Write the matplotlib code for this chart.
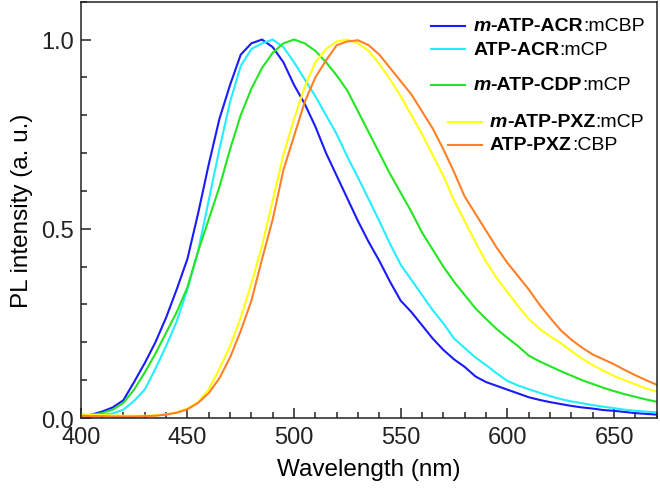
import matplotlib
matplotlib.use('Agg')
import matplotlib.pyplot as plt
from matplotlib.lines import Line2D
from matplotlib.offsetbox import TextArea, HPacker, DrawingArea, AnnotationBbox
from matplotlib.ticker import MultipleLocator

plt.rcParams['font.family'] = ['Liberation Sans', 'DejaVu Sans']

# wavelength grid (nm), 5 nm steps
wavelength = list(range(400, 675, 5))

m_acr_mcbp = [0.005, 0.009, 0.017, 0.028, 0.047, 0.095, 0.145, 0.20, 0.265, 0.34,
              0.42, 0.54, 0.67, 0.79, 0.88, 0.96, 0.99, 1.0, 0.98, 0.94,
              0.88, 0.83, 0.77, 0.70, 0.64, 0.58, 0.52, 0.465, 0.415, 0.36,
              0.31, 0.28, 0.245, 0.21, 0.18, 0.155, 0.135, 0.11, 0.095, 0.085,
              0.075, 0.065, 0.055, 0.048, 0.042, 0.037, 0.032, 0.028, 0.025, 0.021,
              0.019, 0.016, 0.013, 0.011, 0.009]
acr_mcp = [0.003, 0.005, 0.008, 0.012, 0.022, 0.045, 0.075, 0.13, 0.19, 0.255,
           0.34, 0.44, 0.575, 0.71, 0.835, 0.93, 0.975, 0.99, 1.0, 0.98,
           0.94, 0.895, 0.85, 0.80, 0.75, 0.69, 0.635, 0.578, 0.52, 0.46,
           0.405, 0.365, 0.325, 0.285, 0.25, 0.21, 0.185, 0.16, 0.14, 0.118,
           0.098, 0.086, 0.076, 0.067, 0.058, 0.05, 0.044, 0.039, 0.034, 0.03,
           0.026, 0.022, 0.019, 0.017, 0.015]
m_cdp_mcp = [0.005, 0.008, 0.013, 0.022, 0.04, 0.075, 0.12, 0.17, 0.225, 0.28,
             0.345, 0.44, 0.525, 0.61, 0.71, 0.80, 0.87, 0.925, 0.965, 0.99,
             1.0, 0.99, 0.97, 0.94, 0.905, 0.865, 0.81, 0.755, 0.70, 0.645,
             0.595, 0.545, 0.49, 0.445, 0.40, 0.36, 0.325, 0.29, 0.262, 0.235,
             0.212, 0.19, 0.165, 0.15, 0.137, 0.124, 0.112, 0.10, 0.09, 0.08,
             0.071, 0.063, 0.056, 0.049, 0.043]
m_pxz_mcp = [0.01, 0.009, 0.008, 0.007, 0.006, 0.006, 0.006, 0.007, 0.01, 0.015,
             0.025, 0.042, 0.075, 0.13, 0.19, 0.265, 0.355, 0.455, 0.575, 0.695,
             0.79, 0.875, 0.94, 0.975, 0.995, 1.0, 0.99, 0.97, 0.935, 0.895,
             0.85, 0.80, 0.75, 0.695, 0.64, 0.575, 0.52, 0.465, 0.413, 0.37,
             0.333, 0.296, 0.262, 0.236, 0.216, 0.198, 0.177, 0.157, 0.14, 0.125,
             0.111, 0.10, 0.089, 0.078, 0.07]
pxz_cbp = [0.006, 0.005, 0.005, 0.004, 0.004, 0.004, 0.005, 0.006, 0.009, 0.014,
           0.023, 0.04, 0.066, 0.105, 0.16, 0.23, 0.31, 0.42, 0.525, 0.655,
           0.745, 0.835, 0.90, 0.945, 0.985, 0.995, 0.998, 0.985, 0.96, 0.925,
           0.89, 0.855, 0.81, 0.765, 0.71, 0.65, 0.585, 0.54, 0.495, 0.45,
           0.41, 0.375, 0.34, 0.30, 0.265, 0.232, 0.207, 0.186, 0.168, 0.155,
           0.142, 0.127, 0.113, 0.10, 0.088]

series = [m_acr_mcbp, acr_mcp, m_cdp_mcp, m_pxz_mcp, pxz_cbp]
colors = ['#1a1aff', '#22eeff', '#22e622', '#ffff10', '#ff8026']
# legend pieces: (bold italic prefix, bold name, host)
legend_parts = [('m', '-ATP-ACR', ':mCBP'),
                ('', 'ATP-ACR', ':mCP'),
                ('m', '-ATP-CDP', ':mCP'),
                ('m', '-ATP-PXZ', ':mCP'),
                ('', 'ATP-PXZ', ':CBP')]
legend_pos = [(0.608, 0.942), (0.608, 0.886), (0.608, 0.800), (0.637, 0.712), (0.637, 0.656)]

fig = plt.figure(figsize=(6.6, 4.89), dpi=100)
ax = fig.add_axes([0.1223, 0.1431, 0.8727, 0.8514])

for y, c in zip(series, colors):
    ax.plot(wavelength, y, color=c, lw=1.5)

ax.set_xlim(400, 670)
ax.set_ylim(0, 1.1)
ax.xaxis.set_major_locator(MultipleLocator(50))
ax.xaxis.set_minor_locator(MultipleLocator(10))
ax.yaxis.set_major_locator(MultipleLocator(0.5))
ax.yaxis.set_minor_locator(MultipleLocator(0.1))
ax.yaxis.set_major_formatter(plt.FormatStrFormatter('%.1f'))
ax.tick_params(which='both', direction='in', width=1.1, colors='#222222', labelsize=17)
ax.tick_params(axis='x', pad=6)
ax.tick_params(axis='y', pad=5)
ax.tick_params(which='major', length=7)
ax.tick_params(which='minor', length=4)
for s in ax.spines.values():
    s.set_linewidth(1.1)
    s.set_color('#222222')

ax.set_xlabel('Wavelength (nm)', fontsize=17.5, labelpad=7)
ax.set_ylabel('PL intensity (a. u.)', fontsize=17.5, labelpad=6)

fs = 14
for (pre, name, host), c, (px, py) in zip(legend_parts, colors, legend_pos):
    da = DrawingArea(24.5, 10, 0, 0)
    da.add_artist(Line2D([0, 24.5], [5, 5], color=c, lw=1.5))
    words = []
    if pre:
        words.append(TextArea(pre, textprops=dict(fontsize=fs, fontweight='bold', fontstyle='italic')))
    words.append(TextArea(name, textprops=dict(fontsize=fs, fontweight='bold')))
    words.append(TextArea(host, textprops=dict(fontsize=fs)))
    row = HPacker(children=[da, HPacker(children=words, align='baseline', pad=0, sep=0)],
                  align='center', pad=0, sep=6)
    ab = AnnotationBbox(row, (px, py), xycoords='axes fraction', box_alignment=(0, 0.5),
                        frameon=False, pad=0)
    ax.add_artist(ab)

fig.savefig('out.png', dpi=100)
